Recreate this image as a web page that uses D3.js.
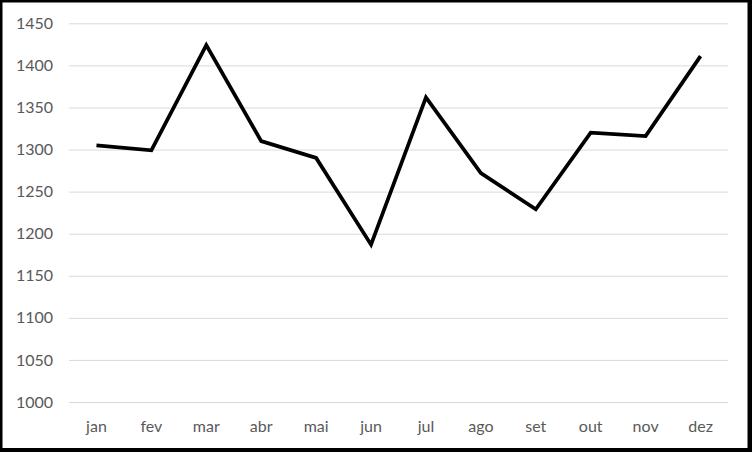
<!DOCTYPE html>
<html lang="pt">

<head>
    <meta charset="UTF-8">
    <title>Linha mensal</title>
    <style>
        body { margin: 0; background: #fff; }
        .axis text { font-family: Lato, "Open Sans", sans-serif; font-size: 16px; fill: #595959; }
    </style>
</head>

<body>
    <script src='https://d3js.org/d3.v7.min.js'></script>
    <script>
        // Data
        const months = ["jan", "fev", "mar", "abr", "mai", "jun", "jul", "ago", "set", "out", "nov", "dez"];
        const values = [1305, 1299, 1424, 1310, 1290, 1187, 1362, 1272, 1229, 1320, 1316, 1411];
        const yTicks = [1000, 1050, 1100, 1150, 1200, 1250, 1300, 1350, 1400, 1450];

        // Dimensions
        const width = 752; const height = 452;
        const plotLeft = 69, plotRight = 728, plotTop = 23.3, plotBottom = 402;

        const svg = d3.select("body")
            .append("svg")
            .attr("width", width)
            .attr("height", height);

        // frame
        svg.append("rect")
            .attr("width", width).attr("height", height)
            .attr("fill", "#000");
        svg.append("rect")
            .attr("x", 2.5).attr("y", 2.5)
            .attr("width", 745).attr("height", 445.5)
            .attr("fill", "#fff");

        const x = d3.scaleBand()
            .domain(months)
            .range([plotLeft, plotRight]);

        const y = d3.scaleLinear()
            .domain([1000, 1450])
            .range([plotBottom, plotTop]);

        // y axis + gridlines
        const yAxis = svg.append("g")
            .attr("class", "axis")
            .attr("transform", "translate(" + plotLeft + ",0)")
            .call(d3.axisLeft(y)
                .tickValues(yTicks)
                .tickSize(-(plotRight - plotLeft))
                .tickPadding(16)
                .tickFormat(d3.format("d")));
        yAxis.select(".domain").remove();
        yAxis.selectAll(".tick line").attr("stroke", "#d9d9d9").attr("stroke-width", 1);

        // x axis
        const xAxis = svg.append("g")
            .attr("class", "axis")
            .attr("transform", "translate(0," + plotBottom + ")")
            .call(d3.axisBottom(x).tickSize(0).tickPadding(19));
        xAxis.select(".domain").remove();

        // the line
        svg.append("path")
            .datum(values)
            .attr("fill", "none")
            .attr("stroke", "#000")
            .attr("stroke-width", 3.75)
            .attr("d", d3.line()
                .x((d, i) => x(months[i]) + x.bandwidth() / 2)
                .y(d => y(d)));
    </script>
</body>

</html>
